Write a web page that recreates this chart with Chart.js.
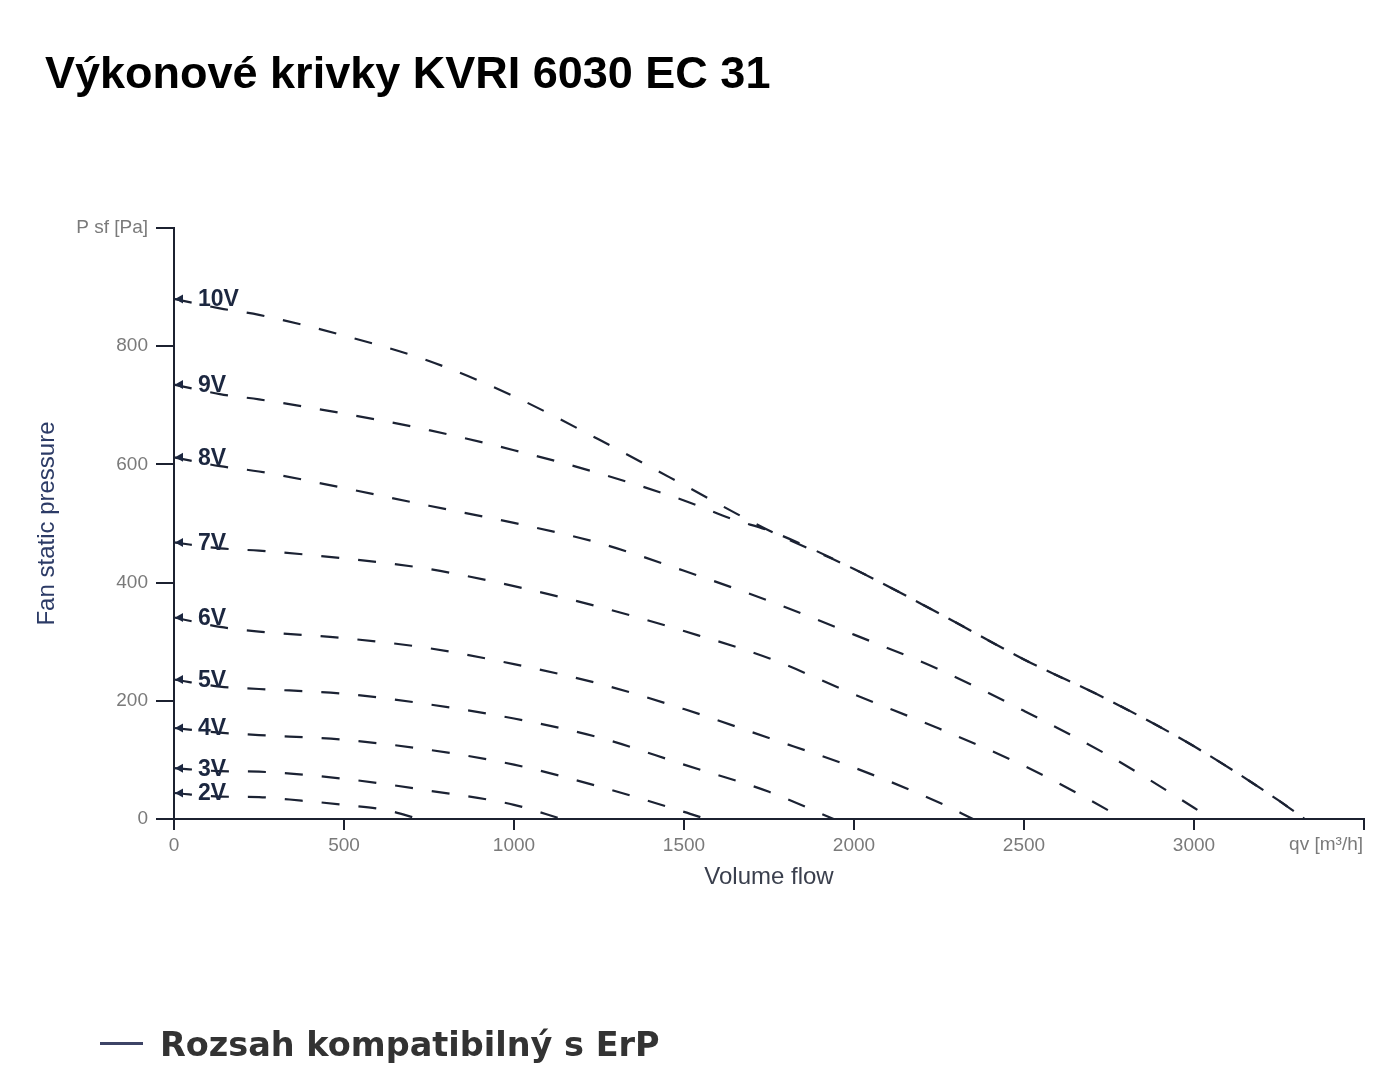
<!DOCTYPE html>
<html>
<head>
<meta charset="utf-8">
<script src="https://cdn.jsdelivr.net/npm/chart.js@4.4.1/dist/chart.umd.min.js"></script>
<style>
  html, body { margin:0; padding:0; background:#fff; }
  #wrap { position:relative; width:1400px; height:1077px; overflow:hidden; }
  #chartBox { position:absolute; left:0; top:0; width:1400px; height:1077px; }
  #title { position:absolute; left:45px; top:50px; font:bold 45px/45px "Liberation Sans", Arial, sans-serif; color:#000; white-space:nowrap; }
  #legend { position:absolute; left:100px; top:1028px; height:34px; white-space:nowrap; }
  #legend .sw { position:absolute; left:0; top:14px; width:43px; height:3px; background:#3d4466; }
  #legend .tx { position:absolute; left:60px; top:0; font:bold 33.5px/34px "DejaVu Sans", sans-serif; color:#333; }
</style>
</head>
<body>
<div id="wrap">
  <div id="chartBox"><canvas id="c"></canvas></div>
  <div id="title">Výkonové krivky KVRI 6030 EC 31</div>
  <div id="legend"><div class="sw"></div><div class="tx">Rozsah kompatibilný s ErP</div></div>
</div>
<script>
// ---- data ----
const seriesNames = ['10V', '9V', '8V', '7V', '6V', '5V', '4V', '3V', '2V'];

const flow10V = [0, 135, 250, 500, 750, 1000, 1250, 1500, 1650, 1750, 2000, 2250, 2500, 2750, 3000, 3250, 3325];
const pres10V = [880, 864, 853, 818, 775, 715, 642, 565, 518, 488, 423, 348, 270, 201, 123, 31, 0];

const flow9V = [0, 135, 250, 500, 750, 1000, 1250, 1500, 1650, 1750, 2000, 2250, 2500, 2750, 3000, 3250, 3325];
const pres9V = [735, 719, 710, 686, 658, 624, 585, 539, 506, 488, 423, 348, 270, 201, 123, 31, 0];

const flow8V = [0, 135, 250, 500, 750, 1000, 1250, 1500, 1750, 2000, 2250, 2500, 2750, 3000, 3050];
const pres8V = [612, 597, 588, 560, 530, 501, 467, 420, 369, 312, 253, 183, 107, 19, 0];

const flow7V = [0, 135, 250, 500, 750, 1000, 1250, 1500, 1750, 2000, 2250, 2500, 2750, 2790];
const pres7V = [468, 458, 454, 441, 423, 394, 359, 318, 272, 211, 153, 90, 14, 0];

const flow6V = [0, 135, 250, 500, 750, 1000, 1250, 1500, 1750, 2000, 2250, 2350];
const pres6V = [341, 325, 317, 306, 289, 262, 229, 186, 137, 87, 28, 0];

const flow5V = [0, 135, 250, 500, 750, 1000, 1250, 1500, 1750, 1940];
const pres5V = [236, 224, 220, 212, 194, 170, 138, 92, 46, 0];

const flow4V = [0, 135, 250, 500, 750, 1000, 1250, 1500, 1565];
const pres4V = [154, 146, 142, 134, 117, 92, 55, 12, 0];

const flow3V = [0, 135, 250, 500, 750, 1000, 1140];
const pres3V = [86, 81, 80, 68, 48, 24, 0];

const flow2V = [0, 135, 250, 375, 500, 625, 720];
const pres2V = [44, 38, 37, 31, 24, 15, 0];

const xTickStep = 500, xMax = 3500;
const yTickStep = 200, yMax = 1000;
const xAxisTitle = 'Volume flow';
const yAxisTitle = 'Fan static pressure';
const xAxisUnit = 'qv [m³/h]';
const yAxisUnit = 'P sf [Pa]';

// ---- styles ----
const lineColor = '#1b2233';
const axisColor = '#1c2130';
const tickColor = '#7a7a7a';
const labelColor = '#1c2740';
const fontFam = '"Liberation Sans", Arial, sans-serif';

const flows = [flow10V, flow9V, flow8V, flow7V, flow6V, flow5V, flow4V, flow3V, flow2V];
const pressures = [pres10V, pres9V, pres8V, pres7V, pres6V, pres5V, pres4V, pres3V, pres2V];

const datasets = seriesNames.map((name, i) => ({
  label: name,
  data: flows[i].map((f, j) => ({ x: f, y: pressures[i][j] })),
  borderColor: lineColor,
  borderWidth: 2.2,
  borderDash: [18, 19],
  pointRadius: 0,
  fill: false,
  cubicInterpolationMode: 'monotone',
  clip: false
}));

const curveLabels = {
  id: 'curveLabels',
  afterDatasetsDraw(chart) {
    const ctx = chart.ctx;
    chart.data.datasets.forEach((ds, i) => {
      const p = chart.getDatasetMeta(i).data[0];
      ctx.save();
      ctx.fillStyle = labelColor;
      ctx.beginPath();
      ctx.moveTo(p.x + 1, p.y);
      ctx.lineTo(p.x + 9, p.y - 4.5);
      ctx.lineTo(p.x + 9, p.y + 4.5);
      ctx.closePath();
      ctx.fill();
      ctx.font = 'bold 23px ' + fontFam;
      ctx.textBaseline = 'middle';
      ctx.textAlign = 'left';
      ctx.fillText(ds.label, p.x + 24, p.y + 1);
      ctx.restore();
    });
    const xs = chart.scales.x;
    ctx.save();
    ctx.font = '19px ' + fontFam;
    ctx.fillStyle = tickColor;
    ctx.textAlign = 'right';
    ctx.textBaseline = 'middle';
    ctx.fillText(xAxisUnit, xs.right - 1, chart.chartArea.bottom + 26);
    ctx.restore();
  }
};

new Chart(document.getElementById('c'), {
  type: 'line',
  data: { datasets },
  options: {
    responsive: true,
    maintainAspectRatio: false,
    animation: false,
    layout: { padding: { left: 29, top: 228, right: 36, bottom: 181 } },
    plugins: { legend: { display: false }, tooltip: { enabled: false }, title: { display: false } },
    scales: {
      x: {
        type: 'linear',
        min: 0, max: xMax,
        afterFit(s) { s.height = 77; },
        grid: { drawOnChartArea: false, drawTicks: true, tickLength: 11, color: axisColor, lineWidth: 2 },
        border: { display: true, color: axisColor, width: 2 },
        ticks: {
          stepSize: xTickStep, autoSkip: false, padding: 4, color: tickColor,
          font: { family: fontFam, size: 19 },
          callback: (v) => (v === xMax ? '' : v)
        },
        title: { display: true, text: xAxisTitle, color: '#3a3f4d', font: { family: fontFam, size: 24 } }
      },
      y: {
        type: 'linear',
        min: 0, max: yMax,
        afterFit(s) { s.width = 145; },
        grid: { drawOnChartArea: false, drawTicks: true, tickLength: 18, color: axisColor, lineWidth: 2 },
        border: { display: true, color: axisColor, width: 2 },
        ticks: {
          stepSize: yTickStep, autoSkip: false, padding: 8, color: tickColor,
          font: { family: fontFam, size: 19 },
          callback: (v) => (v === yMax ? yAxisUnit : v)
        },
        title: { display: true, text: yAxisTitle, color: '#2c3b66', font: { family: fontFam, size: 24 } }
      }
    }
  },
  plugins: [curveLabels]
});
</script>
</body>
</html>
